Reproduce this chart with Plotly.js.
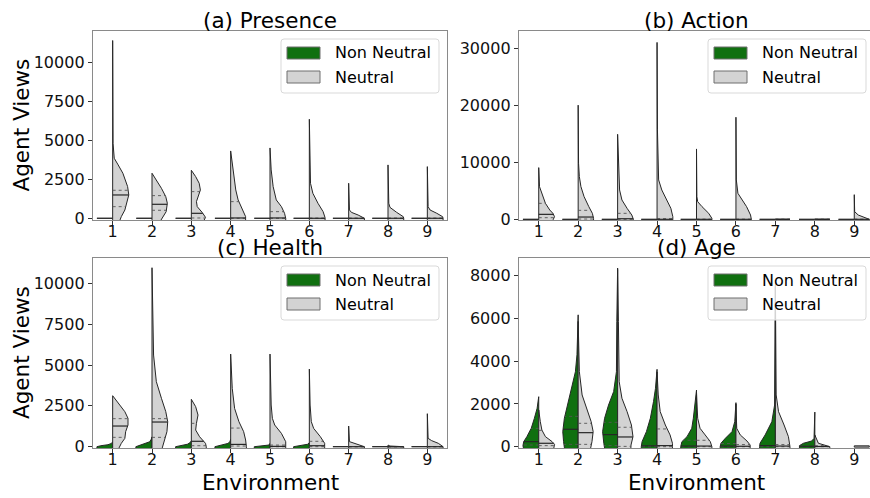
<!DOCTYPE html>
<html><head><meta charset="utf-8">
<script src="https://cdn.plot.ly/plotly-3.0.1.min.js"></script>
<style>html,body{margin:0;padding:0;overflow:hidden;width:870px;height:498px;background:#fff}</style>
</head><body><div id="chart" style="width:880px;height:498px"></div>
<script>
// ---------- data ----------
const environments = [1, 2, 3, 4, 5, 6, 7, 8, 9];
const seriesNames = ['Non Neutral', 'Neutral'];
const panelTitles = ['(a) Presence', '(b) Action', '(c) Health', '(d) Age'];
const xAxisTitle = 'Environment';
const yAxisTitle = 'Agent Views';

// each violin half: list of [agent views, density half-width]
const presenceNonNeutral = [[[0,0.4]],[[0,0.4]],[[0,0.4]],[[0,0.4]],[[0,0.4]],[[0,0.4]],[[0,0.4]],[[0,0.4]],[[0,0.4]]];
const presenceNeutral = [
  [[-400,0.16],[-150,0.18],[105,0.22],[530,0.31],[1175,0.39],[1495,0.41],[2030,0.38],[2885,0.26],[3420,0.14],[3845,0.04],[4800,0.01],[8000,0.004],[11390,0]],
  [[-400,0.2],[-150,0.22],[0,0.26],[425,0.36],[960,0.39],[1387,0.35],[1921,0.24],[2457,0.11],[2885,0]],
  [[-400,0.3],[-150,0.32],[62,0.36],[361,0.28],[746,0.15],[1067,0.13],[1388,0.18],[1815,0.23],[2242,0.2],[2670,0.11],[3075,0]],
  [[-400,0.38],[105,0.38],[534,0.30],[1175,0.19],[1815,0.13],[2670,0.08],[3524,0.04],[4315,0]],
  [[-400,0.4],[0,0.4],[318,0.37],[746,0.29],[1175,0.16],[2030,0.08],[3097,0.03],[4507,0]],
  [[-400,0.4],[40,0.4],[425,0.35],[960,0.22],[1600,0.09],[2242,0.03],[3524,0.02],[6345,0]],
  [[-400,0.4],[0,0.4],[60,0.36],[210,0.24],[380,0.07],[534,0.02],[2244,0]],
  [[-400,0.4],[0,0.4],[100,0.39],[380,0.22],[700,0.05],[960,0.02],[3420,0]],
  [[-400,0.4],[0,0.4],[100,0.39],[320,0.24],[530,0.07],[745,0.02],[3310,0]]
];
const presenceNeutralQuartiles = [[745,1494,1795],[512,896,1451],[20,318,1708],[0,20,1067],[0,20,425],[0,0,0],[0,0,0],[0,0,0],[0,0,0]];

const actionNonNeutral = [[[0,0.4]],[[0,0.4]],[[0,0.4]],[[0,0.4]],[[0,0.4]],[[0,0.4]],[[0,0.4]],[[0,0.4]],[[0,0.4]]];
const actionNeutral = [
  [[-800,0.34],[0,0.37],[460,0.40],[1047,0.36],[1630,0.28],[2800,0.17],[4555,0.08],[5725,0.02],[9060,0]],
  [[-800,0.39],[170,0.39],[1047,0.36],[2216,0.27],[3970,0.15],[5725,0.07],[7480,0.03],[9820,0.01],[20000,0]],
  [[-800,0.4],[0,0.4],[755,0.36],[1924,0.24],[3385,0.11],[5140,0.05],[9820,0.03],[14900,0]],
  [[-800,0.39],[0,0.4],[460,0.40],[1924,0.35],[3385,0.25],[5140,0.12],[6900,0.04],[15670,0.01],[31000,0]],
  [[-800,0.39],[170,0.39],[1047,0.31],[2216,0.14],[3090,0.03],[3970,0.01],[12330,0]],
  [[-800,0.39],[0,0.39],[755,0.37],[2216,0.27],[3385,0.15],[4555,0.05],[6900,0.01],[17890,0]],
  [[0,0.37]],
  [[0,0.38]],
  [[-800,0.38],[0,0.38],[345,0.27],[755,0.10],[1340,0.01],[4320,0]]
];
const actionNeutralQuartiles = [[285,870,2800],[50,400,1573],[0,100,1047],[0,0,110],[0,0,0],[0,0,0],[0,0,0],[0,0,0],[0,0,0]];

const healthNonNeutral = [
  [[-300,0.4],[0,0.4],[60,0.3],[120,0.12],[200,0.03],[300,0]],
  [[-300,0.41],[0,0.41],[100,0.3],[200,0.15],[300,0.06],[450,0.02],[600,0]],
  [[-300,0.4],[0,0.4],[80,0.25],[150,0.1],[250,0.03],[350,0]],
  [[-300,0.4],[0,0.4],[100,0.22],[200,0.07],[300,0.02],[450,0]],
  [[-300,0.4],[0,0.4],[50,0.15],[100,0.03],[200,0]],
  [[-300,0.4],[0,0.4],[80,0.15],[150,0.04],[250,0]],
  [[0,0.4]],
  [[0,0.4]],
  [[0,0.4]]
];
const healthNeutral = [
  [[-400,0.15],[-80,0.16],[205,0.22],[512,0.31],[920,0.33],[1326,0.39],[1735,0.39],[2140,0.31],[2650,0.14],[3120,0]],
  [[-400,0.25],[-80,0.26],[410,0.32],[920,0.38],[1530,0.40],[2145,0.35],[2960,0.24],[3980,0.11],[5610,0.04],[7650,0.02],[10955,0]],
  [[-400,0.38],[0,0.38],[205,0.36],[610,0.21],[1020,0.11],[1430,0.13],[1940,0.17],[2450,0.11],[2900,0]],
  [[-400,0.40],[0,0.40],[410,0.38],[920,0.33],[1530,0.21],[2345,0.10],[3570,0.04],[5670,0]],
  [[-400,0.40],[0,0.40],[305,0.40],[816,0.29],[1326,0.12],[1735,0.06],[2550,0.03],[5670,0]],
  [[-400,0.39],[0,0.39],[205,0.39],[612,0.28],[1120,0.11],[1530,0.05],[2550,0.02],[4750,0]],
  [[-400,0.40],[0,0.40],[100,0.28],[205,0.11],[310,0.02],[1265,0]],
  [[-100,0.4],[0,0.4],[40,0.05],[100,0]],
  [[-400,0.40],[0,0.40],[205,0.28],[370,0.11],[510,0.02],[2020,0]]
];
const healthNeutralQuartiles = [[572,1265,1715],[572,1510,1715],[60,330,1430],[40,140,1140],[0,20,100],[0,60,330],[0,0,0],[0,0,0],[0,0,0]];

const ageNonNeutral = [
  [[-300,0.36],[50,0.40],[235,0.38],[470,0.30],[860,0.19],[1330,0.11],[1800,0.04],[2340,0]],
  [[-300,0.33],[235,0.37],[705,0.39],[1330,0.35],[1950,0.27],[2730,0.16],[3510,0.07],[4300,0.03],[6170,0]],
  [[-300,0.31],[160,0.35],[705,0.38],[1330,0.33],[1950,0.23],[2580,0.10],[3510,0.03],[5860,0.02],[8360,0]],
  [[-300,0.40],[0,0.40],[235,0.38],[705,0.27],[1330,0.17],[2110,0.09],[2730,0.04],[3620,0]],
  [[-300,0.40],[0,0.40],[235,0.37],[470,0.24],[860,0.12],[1330,0.08],[2110,0.03],[2650,0]],
  [[-300,0.40],[0,0.40],[160,0.38],[390,0.27],[705,0.10],[1170,0.03],[2060,0]],
  [[-300,0.40],[0,0.40],[160,0.39],[550,0.26],[1170,0.09],[1950,0.02],[7580,0]],
  [[-300,0.39],[50,0.39],[160,0.29],[265,0.08],[390,0.02],[1620,0]],
  []
];
const ageNonNeutralQuartiles = [[80,235,860],[110,815,1420],[50,565,1140],[0,40,40],[0,30,300],[0,30,150],[0,50,50],[0,20,20],null];
const ageNeutral = [
  [[-300,0.36],[110,0.40],[235,0.34],[470,0.17],[780,0.08],[1170,0.04],[1720,0]],
  [[-300,0.29],[235,0.35],[705,0.38],[1170,0.33],[1800,0.22],[2420,0.10],[3510,0.03],[5860,0]],
  [[-300,0.33],[80,0.34],[470,0.39],[1015,0.35],[1640,0.24],[2265,0.11],[3040,0.04],[5860,0.02],[8300,0]],
  [[-300,0.39],[0,0.39],[160,0.39],[550,0.33],[1015,0.21],[1640,0.08],[2420,0.03],[3500,0]],
  [[-300,0.39],[0,0.39],[235,0.35],[550,0.22],[860,0.09],[1330,0.03],[2550,0]],
  [[-300,0.36],[80,0.36],[265,0.28],[550,0.11],[860,0.02],[2000,0]],
  [[-300,0.37],[0,0.37],[470,0.33],[1015,0.22],[1640,0.08],[2420,0.02],[7500,0]],
  [[-300,0.38],[0,0.38],[80,0.26],[160,0.09],[550,0]],
  [[-20,0.38],[40,0.38]]
];
const ageNeutralQuartiles = [[50,160,765],[110,657,1095],[15,455,910],[0,50,830],[0,30,300],[0,20,100],[0,30,100],[0,10,50],null];

const yRanges = [[-110,12000],[-120,33000],[-80,11550],[-61,8830]];
const yDticks = [2500, 10000, 2500, 2000];

// ---------- styling ----------
const W = 880, H = 498;
const FONT = 'DejaVu Sans, Liberation Sans, sans-serif';
const GREEN = '#107010', GREY = '#d3d3d3', EDGE = '#262626';
const panelBoxes = [ // pixel boxes [left, right, top, bottom]
  [93, 447, 31, 220], [519, 874, 31, 220], [93, 447, 258, 448], [519, 874, 258, 448]
];
const px = v => v / W, py = v => 1 - v / H;

const panels = [
  {non: presenceNonNeutral, neu: presenceNeutral, nonQ: null, neuQ: presenceNeutralQuartiles},
  {non: actionNonNeutral, neu: actionNeutral, nonQ: null, neuQ: actionNeutralQuartiles},
  {non: healthNonNeutral, neu: healthNeutral, nonQ: null, neuQ: healthNeutralQuartiles},
  {non: ageNonNeutral, neu: ageNeutral, nonQ: ageNonNeutralQuartiles, neuQ: ageNeutralQuartiles}
];

function halfPolygon(profile, c, sign) {
  const xs = [c], ys = [profile[0][0]];
  profile.forEach(([v, w]) => { xs.push(c + sign * w); ys.push(v); });
  xs.push(c); ys.push(profile[profile.length - 1][0]);
  xs.push(c); ys.push(profile[0][0]);
  return {xs, ys};
}
function widthAt(profile, q) {
  if (q <= profile[0][0]) return profile[0][1];
  for (let i = 1; i < profile.length; i++) {
    const [v0, w0] = profile[i - 1], [v1, w1] = profile[i];
    if (q <= v1) return v1 === v0 ? w1 : w0 + (w1 - w0) * (q - v0) / (v1 - v0);
  }
  return 0;
}

const traces = [];
const layout = {
  width: W, height: H, margin: {l: 0, r: 0, t: 0, b: 0},
  paper_bgcolor: '#fff', plot_bgcolor: '#fff', showlegend: false,
  font: {family: FONT, color: '#000'},
  shapes: [], annotations: []
};

panels.forEach((p, i) => {
  const n = i + 1, sfx = n === 1 ? '' : String(n);
  const xa = 'x' + sfx, ya = 'y' + sfx;
  const [L, R, T, B] = panelBoxes[i];
  layout['xaxis' + sfx] = {
    domain: [px(L), px(R)], anchor: ya, range: [0.5, environments.length + 0.5],
    tickvals: environments, ticktext: environments.map(String),
    ticks: 'outside', ticklen: 4, tickwidth: 1, tickcolor: '#333', ticklabelstandoff: -7,
    tickfont: {size: 16, family: FONT, color: '#111'},
    showline: true, mirror: true, linecolor: '#8a8a8a', linewidth: 1.2,
    showgrid: false, zeroline: false, fixedrange: true
  };
  layout['yaxis' + sfx] = {
    domain: [py(B), py(T)], anchor: xa, range: yRanges[i], dtick: yDticks[i], tick0: 0,
    tickformat: 'd',
    ticks: 'outside', ticklen: 4, tickwidth: 1, tickcolor: '#333',
    tickfont: {size: 16, family: FONT, color: '#111'},
    showline: true, mirror: true, linecolor: '#8a8a8a', linewidth: 1.2,
    showgrid: false, zeroline: false, fixedrange: true
  };

  const sides = [
    {prof: p.non, q: p.nonQ, sign: -1, color: GREEN, name: seriesNames[0]},
    {prof: p.neu, q: p.neuQ, sign: 1, color: GREY, name: seriesNames[1]}
  ];
  const medX = [], medY = [], qX = [], qY = [];
  environments.forEach((env, k) => {
    sides.forEach(s => {
      const prof = s.prof[k];
      if (!prof || !prof.length) return;
      const poly = halfPolygon(prof, env, s.sign);
      traces.push({
        type: 'scatter', mode: 'lines', x: poly.xs, y: poly.ys, xaxis: xa, yaxis: ya,
        fill: 'toself', fillcolor: s.color, line: {color: EDGE, width: 1},
        name: s.name, hoverinfo: 'skip'
      });
      const qs = s.q ? s.q[k] : null;
      if (!qs) return;
      qs.forEach((val, j) => {
        const w = widthAt(prof, val);
        const tx = j === 1 ? medX : qX, ty = j === 1 ? medY : qY;
        tx.push(env, env + s.sign * w, null); ty.push(val, val, null);
      });
    });
  });
  traces.push({type: 'scatter', mode: 'lines', x: qX, y: qY, xaxis: xa, yaxis: ya,
    line: {color: '#555', width: 0.9, dash: 'dot'}, hoverinfo: 'skip'});
  traces.push({type: 'scatter', mode: 'lines', x: medX, y: medY, xaxis: xa, yaxis: ya,
    line: {color: EDGE, width: 1.2}, hoverinfo: 'skip'});

  // panel title
  layout.annotations.push({text: panelTitles[i], xref: 'paper', yref: 'paper',
    x: px((L + R) / 2), y: py(T - 10.5), xanchor: 'center', yanchor: 'middle', showarrow: false,
    font: {size: 21.5, family: FONT, color: '#000'}});
  // axis titles
  if (i % 2 === 0) layout.annotations.push({text: yAxisTitle, xref: 'paper', yref: 'paper',
    x: px(21), y: py((T + B) / 2), textangle: -90, xanchor: 'center', yanchor: 'middle', showarrow: false,
    font: {size: 21.5, family: FONT, color: '#000'}});
  if (i >= 2) layout.annotations.push({text: xAxisTitle, xref: 'paper', yref: 'paper',
    x: px((L + R) / 2), y: py(482), xanchor: 'center', yanchor: 'middle', showarrow: false,
    font: {size: 21.5, family: FONT, color: '#000'}});

  // legend box
  const lx0 = R - 166, lx1 = R - 8, ly0 = T + 8, ly1 = T + 62, r = 3;
  const X = v => px(v), Y = v => py(v);
  layout.shapes.push({type: 'path', xref: 'paper', yref: 'paper', layer: 'above',
    path: `M${X(lx0 + r)},${Y(ly0)} L${X(lx1 - r)},${Y(ly0)} Q${X(lx1)},${Y(ly0)} ${X(lx1)},${Y(ly0 + r)} ` +
          `L${X(lx1)},${Y(ly1 - r)} Q${X(lx1)},${Y(ly1)} ${X(lx1 - r)},${Y(ly1)} L${X(lx0 + r)},${Y(ly1)} ` +
          `Q${X(lx0)},${Y(ly1)} ${X(lx0)},${Y(ly1 - r)} L${X(lx0)},${Y(ly0 + r)} Q${X(lx0)},${Y(ly0)} ${X(lx0 + r)},${Y(ly0)} Z`,
    fillcolor: 'rgba(255,255,255,0.8)', line: {color: '#d9d9d9', width: 1}});
  [[GREEN, 8], [GREY, 32]].forEach(([col, off], j) => {
    layout.shapes.push({type: 'rect', xref: 'paper', yref: 'paper', layer: 'above',
      x0: X(lx0 + 6), x1: X(lx0 + 39), y0: Y(ly0 + off), y1: Y(ly0 + off + 12),
      fillcolor: col, line: {color: '#6e6e6e', width: 1}});
    layout.annotations.push({text: seriesNames[j], xref: 'paper', yref: 'paper',
      x: X(lx0 + 52), y: Y(ly0 + off + 6), xanchor: 'left', yanchor: 'middle', showarrow: false,
      font: {size: 16, family: FONT, color: '#000'}});
  });
});

Plotly.newPlot('chart', traces, layout, {staticPlot: true, displayModeBar: false});
</script>
</body></html>
